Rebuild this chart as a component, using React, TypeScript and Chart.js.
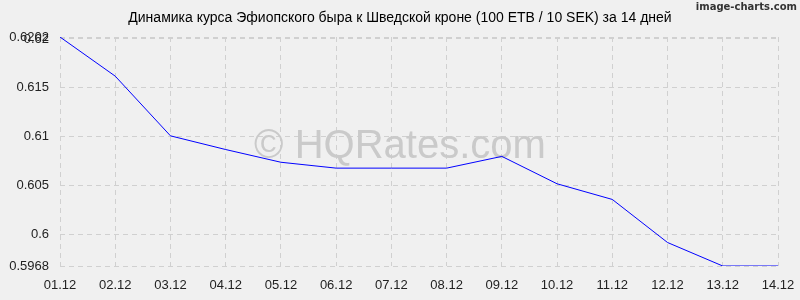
import React, { useEffect, useRef } from "react";
import { Chart, registerables } from "chart.js";

Chart.register(...registerables);

const categories = ["01.12", "02.12", "03.12", "04.12", "05.12", "06.12", "07.12", "08.12", "09.12", "10.12", "11.12", "12.12", "13.12", "14.12"];
const rates = [0.6202, 0.6162, 0.6101, 0.6087, 0.6074, 0.6068, 0.6068, 0.6068, 0.608, 0.6052, 0.6036, 0.5992, 0.5968, 0.5968];
const yTicks = [0.5968, 0.6, 0.605, 0.61, 0.615, 0.62, 0.6202];
const yTickLabels = ["0.5968", "0.6", "0.605", "0.61", "0.615", "0.62", "0.6202"];
const title = "Динамика курса Эфиопского быра к Шведской кроне (100 ETB / 10 SEK) за 14 дней";
const watermark = "© HQRates.com";
const brand = "image-charts.com";

const FONT = "'Liberation Sans', Arial, sans-serif";

export default function App() {
  const ref = useRef<HTMLCanvasElement>(null);
  useEffect(() => {
    const canvas = ref.current!;
    const decor = {
      id: "decor",
      beforeDraw(chart: any) {
        const ctx = chart.ctx;
        ctx.save();
        ctx.fillStyle = "#f0f0f0";
        ctx.fillRect(0, 0, chart.width, chart.height);
        ctx.restore();
      },
      beforeDatasetsDraw(chart: any) {
        const ctx = chart.ctx;
        ctx.save();
        ctx.fillStyle = "#cacaca";
        ctx.font = `40px ${FONT}`;
        ctx.textAlign = "center";
        ctx.textBaseline = "middle";
        ctx.fillText(watermark, 400, 147);
        ctx.restore();
      },
      afterDraw(chart: any) {
        const ctx = chart.ctx;
        ctx.save();
        ctx.fillStyle = "#000";
        ctx.font = `14px ${FONT}`;
        ctx.textAlign = "center";
        ctx.textBaseline = "middle";
        ctx.fillText(title, 400, 18);
        ctx.fillStyle = "#333";
        ctx.font = `bold 10px 'DejaVu Sans', sans-serif`;
        ctx.textAlign = "right";
        ctx.fillText(brand, 797, 7);
        ctx.restore();
      },
    };
    const chart = new Chart(canvas, {
      type: "line",
      data: {
        labels: categories,
        datasets: [
          {
            data: rates,
            borderColor: "#0000ff",
            borderWidth: 1,
            pointRadius: 0,
            tension: 0,
            fill: false,
          },
        ],
      },
      options: {
        animation: false,
        responsive: false,
        layout: { padding: { top: 37, right: 22, left: 0, bottom: 0 } },
        plugins: { legend: { display: false }, title: { display: false }, tooltip: { enabled: false } },
        scales: {
          x: {
            offset: false,
            border: { display: false, dash: [5, 4] },
            grid: { color: "#d0d0d0", drawTicks: false, lineWidth: 1 },
            ticks: { padding: 12, color: "#222", font: { family: FONT, size: 13 }, maxRotation: 0, autoSkip: false },
            afterFit(scale: any) {
              scale.height = 34;
              scale.paddingLeft = 0;
              scale.paddingRight = 0;
            },
          },
          y: {
            min: 0.5968,
            max: 0.6202,
            border: { display: false, dash: [5, 4] },
            grid: { color: "#d0d0d0", drawTicks: false },
            ticks: {
              padding: 11,
              color: "#222",
              font: { family: FONT, size: 13 },
              callback: (v: any) => {
                const i = yTicks.indexOf(Number(v));
                return i >= 0 ? yTickLabels[i] : "";
              },
            },
            afterBuildTicks(scale: any) {
              scale.ticks = yTicks.map((v) => ({ value: v }));
            },
            afterFit(scale: any) {
              scale.width = 60;
              scale.paddingTop = 0;
              scale.paddingBottom = 0;
            },
          },
        },
      },
      plugins: [decor],
    } as any);
    return () => chart.destroy();
  }, []);
  return (
    <div style={{ position: "fixed", left: 0, top: 0, width: 800, height: 300 }}>
      <canvas ref={ref} width={800} height={300} />
    </div>
  );
}
